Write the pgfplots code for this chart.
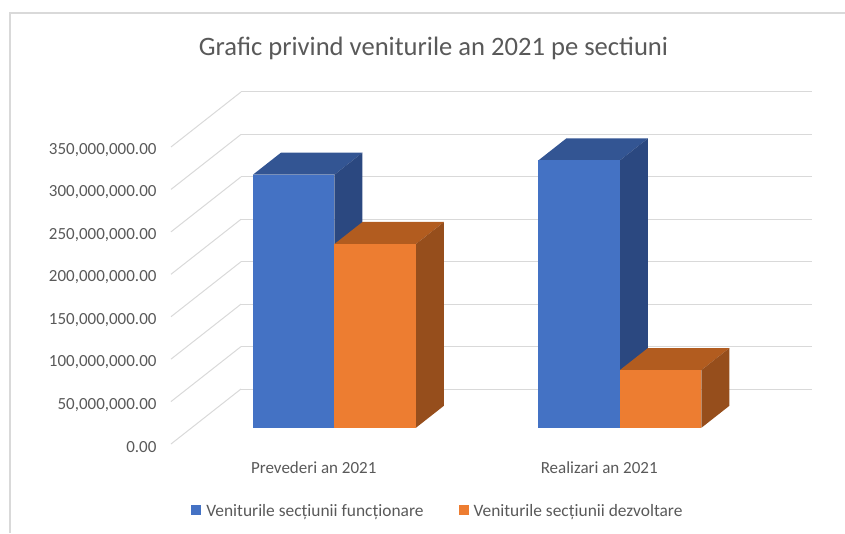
\documentclass[border=0pt]{standalone}
\usepackage{pgfplots}
\pgfplotsset{compat=1.18}
\usepackage{fontspec}
\setmainfont{Carlito}
\usetikzlibrary{calc}
\definecolor{bF}{HTML}{4472C4}\definecolor{bS}{HTML}{2B4880}\definecolor{bT}{HTML}{335593}
\definecolor{oF}{HTML}{ED7D31}\definecolor{oS}{HTML}{964E1C}\definecolor{oT}{HTML}{B25C1F}
\definecolor{gridc}{HTML}{D9D9D9}\definecolor{txt}{HTML}{595959}
% bar(x-left, x-right, value, front, side, top)
\newcommand{\barthree}[6]{%
  \addplot3[no markers,fill=#6,draw=none,forget plot] coordinates {(#1,0.296,#3) (#2,0.296,#3) (#2,0.696,#3) (#1,0.696,#3)} -- cycle;
  \addplot3[no markers,fill=#5,draw=none,forget plot] coordinates {(#2,0.296,0) (#2,0.696,0) (#2,0.696,#3) (#2,0.296,#3)} -- cycle;
  \addplot3[no markers,fill=#4,draw=none,forget plot] coordinates {(#1,0.296,0) (#2,0.296,0) (#2,0.296,#3) (#1,0.296,#3)} -- cycle;
}
\begin{document}
\begin{tikzpicture}
\begin{axis}[
  x={(285.5pt,0pt)}, y={(70pt,55pt)}, z={(0pt,0.8486pt)},
  xmin=-0.5, xmax=1.5, ymin=0, ymax=1, zmin=0, zmax=350,
  clip=false,
  axis line style={draw=none},
  major tick length=0pt,
  xtick={0,1}, xticklabels={Prevederi an 2021,Realizari an 2021},
  ytick=\empty,
  ztick={0,50,100,150,200,250,300,350},
  zticklabels={{0.00},{50,000,000.00},{100,000,000.00},{150,000,000.00},{200,000,000.00},{250,000,000.00},{300,000,000.00},{350,000,000.00}},
  zmajorgrids, grid style={gridc,line width=1pt},
  tick label style={font=\fontsize{17}{20}\selectfont,text=txt},
  zticklabel style={anchor=east,xshift=-11pt,yshift=-3pt},
  xticklabel style={anchor=center,yshift=-24pt},
  legend style={draw=none,fill=none,font=\fontsize{17.4}{20}\selectfont,text=txt,
    at={(0.4165,-0.1905)},anchor=center,
    legend columns=2,/tikz/every odd column/.append style={column sep=3pt},/tikz/every even column/.append style={column sep=33pt}},
  legend image code/.code={\fill[#1] (0pt,-4pt) rectangle (10pt,6pt);},
]
\barthree{-0.2855}{0}{298.2}{bF}{bS}{bT}
\barthree{0}{0.2855}{216.5}{oF}{oS}{oT}
\barthree{0.7145}{1}{315.1}{bF}{bS}{bT}
\barthree{1}{1.2855}{68}{oF}{oS}{oT}
\addlegendimage{fill=bF,draw=none}\addlegendentry{Veniturile secțiunii funcționare}
\addlegendimage{fill=oF,draw=none}\addlegendentry{Veniturile secțiunii dezvoltare}
\coordinate (O) at (axis cs:-0.5,0,0);
\end{axis}
\pgfresetboundingbox
\path[use as bounding box] ($(O)+(-171pt,-89pt)$) rectangle ($(O)+(674pt,444pt)$);
\draw[gridc,line width=1.2pt] ($(O)+(-161pt,-89pt)$) -- ($(O)+(-161pt,431pt)$) -- ($(O)+(674pt,431pt)$);
\node[text=txt,font=\fontsize{26.6}{30}\selectfont] at ($(O)+(262.5pt,396pt)$) {Grafic privind veniturile an 2021 pe sectiuni};
\end{tikzpicture}
\end{document}
